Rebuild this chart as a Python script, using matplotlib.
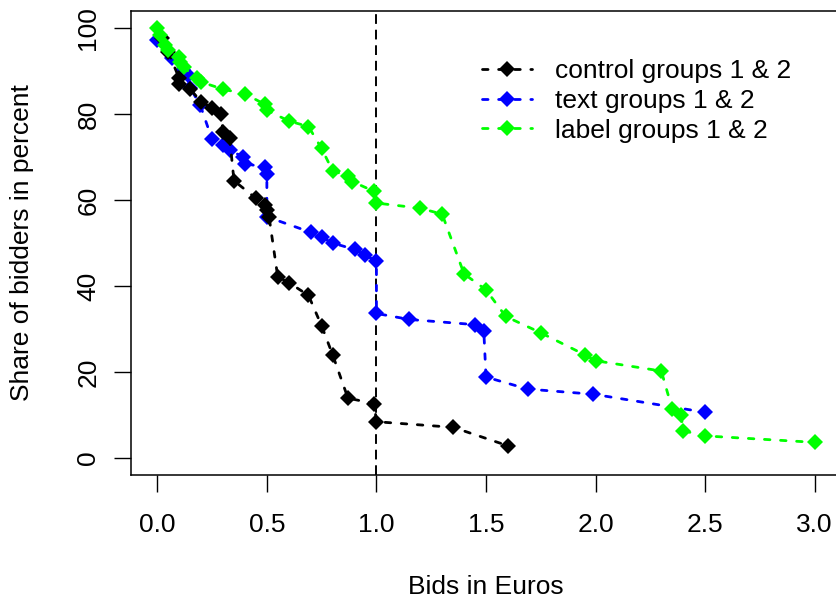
import matplotlib.pyplot as plt

plt.rcParams['font.family'] = ['Liberation Sans', 'DejaVu Sans']

# share of bidders still bidding at or above each price (in Euros)
control_x = [0.02, 0.05, 0.10, 0.10, 0.15, 0.20, 0.25, 0.29, 0.30, 0.33, 0.35, 0.45,
             0.49, 0.50, 0.51, 0.55, 0.60, 0.69, 0.75, 0.80, 0.87, 0.99, 1.00, 1.35, 1.60]
control_y = [97.6, 94.5, 88.3, 87.1, 85.8, 82.9, 81.5, 80.0, 75.9, 74.5, 64.5, 60.4,
             58.8, 57.7, 56.1, 42.0, 40.8, 37.8, 30.7, 24.0, 13.9, 12.6, 8.4, 7.1, 2.8]

text_x = [0.0, 0.067, 0.117, 0.14, 0.15, 0.196, 0.25, 0.30, 0.33, 0.39, 0.40, 0.49, 0.50,
          0.50, 0.70, 0.75, 0.80, 0.90, 0.95, 1.00, 1.00, 1.15, 1.45, 1.49, 1.50, 1.69,
          1.99, 2.50]
text_y = [97.2, 93.0, 90.2, 89.0, 86.1, 82.1, 74.1, 72.8, 71.6, 70.1, 68.5, 67.6, 66.0,
          56.1, 52.5, 51.3, 50.0, 48.5, 47.2, 45.7, 33.6, 32.2, 31.0, 29.5, 18.8, 16.0,
          14.8, 10.6]

label_x = [0.0, 0.014, 0.036, 0.05, 0.097, 0.104, 0.12, 0.18, 0.198, 0.30, 0.40, 0.49,
           0.50, 0.60, 0.69, 0.75, 0.80, 0.87, 0.89, 0.99, 1.00, 1.20, 1.30, 1.40, 1.50,
           1.59, 1.75, 1.95, 2.00, 2.30, 2.35, 2.39, 2.40, 2.50, 3.00]
label_y = [100.0, 98.5, 96.0, 94.9, 93.3, 92.2, 90.9, 88.3, 87.5, 85.8, 84.7, 82.3,
           80.9, 78.4, 77.1, 72.0, 66.8, 65.6, 64.3, 62.0, 59.3, 58.1, 56.7, 42.8, 39.1,
           32.9, 29.1, 24.0, 22.6, 20.2, 11.3, 10.0, 6.3, 5.1, 3.6]

x_ticks = [0.0, 0.5, 1.0, 1.5, 2.0, 2.5, 3.0]
x_tick_labels = ['0.0', '0.5', '1.0', '1.5', '2.0', '2.5', '3.0']
y_ticks = [0, 20, 40, 60, 80, 100]

FS = 19

fig = plt.figure(figsize=(8.37, 6), dpi=100)
ax = fig.add_axes([131 / 837, 125 / 600, 710 / 837, 464 / 600])

style = dict(lw=2.0, dashes=(2.0, 3.8), dash_capstyle='round', marker='D', ms=8,
             markeredgewidth=0)
ax.axvline(1.0, color='black', lw=1.4, dashes=(5, 3), zorder=1)
l_text, = ax.plot(text_x, text_y, color='#0000ff', label='text groups 1 & 2', zorder=2, **style)
l_ctrl, = ax.plot(control_x, control_y, color='black', label='control groups 1 & 2', zorder=3, **style)
l_lab, = ax.plot(label_x, label_y, color='#00ff00', label='label groups 1 & 2', zorder=4, **style)

ax.set_xlim(-0.12, 3.12)
ax.set_ylim(-4, 104)
ax.set_xticks(x_ticks)
ax.set_xticklabels(x_tick_labels)
ax.set_yticks(y_ticks)
ax.set_yticklabels([str(v) for v in y_ticks], rotation=90, va='center')
ax.tick_params(direction='out', length=12, width=1.0, labelsize=FS)
ax.tick_params(axis='x', pad=15)
ax.tick_params(axis='y', pad=10)
for sp in ax.spines.values():
    sp.set_linewidth(1.1)

ax.set_xlabel('Bids in Euros', fontsize=FS)
ax.xaxis.set_label_coords(0.5, -(587 - 475) / 464)
ax.xaxis.label.set_va('center')
ax.set_ylabel('Share of bidders in percent', fontsize=FS)
ax.yaxis.set_label_coords(-(131 - 22) / 710, 0.5)
ax.yaxis.label.set_va('center')

ax.legend(handles=[l_ctrl, l_text, l_lab], loc='upper left',
          bbox_to_anchor=(482 / 837, 1 - 59 / 600), bbox_transform=fig.transFigure,
          frameon=False, fontsize=FS, handlelength=1.9, handletextpad=0.85,
          labelspacing=0.22, borderaxespad=0, borderpad=0)

fig.savefig('out.png', dpi=100)
